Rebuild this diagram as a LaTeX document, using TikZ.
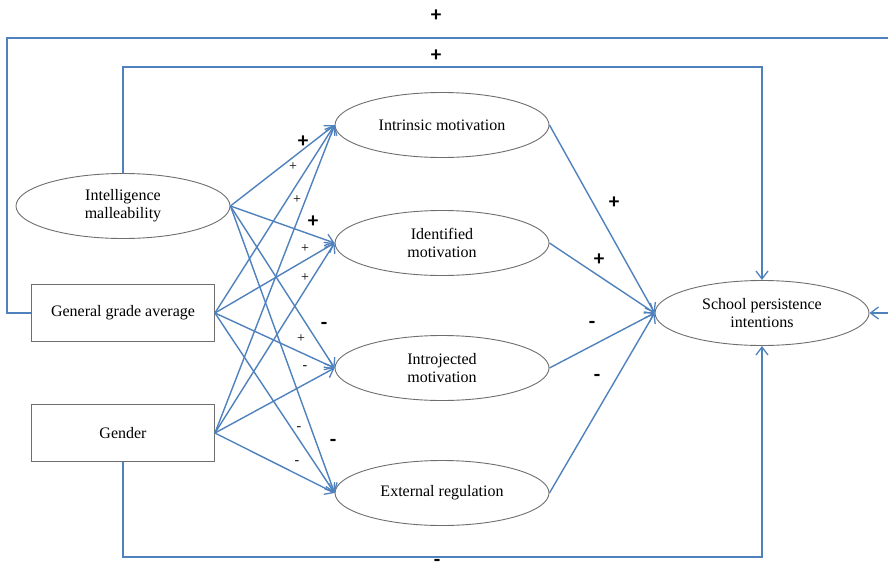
\documentclass[tikz,border=0pt]{standalone}
\usepackage{fontspec}
\setmainfont{Liberation Serif}
\newfontfamily\labfont{Carlito}
\usetikzlibrary{shapes.geometric,arrows.meta}
\definecolor{lineblue}{RGB}{79,129,189}
\definecolor{boxgray}{RGB}{110,110,110}
\begin{document}
\begin{tikzpicture}[x=1pt,y=-1pt,
  ell/.style={ellipse,draw=boxgray,line width=0.9pt,minimum width=214pt,minimum height=65pt,inner sep=0pt,align=center,font=\fontsize{16}{18}\selectfont},
  rbox/.style={rectangle,draw=boxgray,line width=0.9pt,minimum width=183pt,minimum height=57pt,inner sep=0pt,align=center,font=\fontsize{16}{18}\selectfont},
  arr/.style={draw=lineblue,line width=1.4pt,-{Straight Barb[length=8pt,width=12pt,line width=1.3pt]}},
  plain/.style={draw=lineblue,line width=1.4pt},
  bl/.style={font=\labfont\bfseries\fontsize{21}{21}\selectfont,inner sep=0pt},
  sl/.style={font=\fontsize{14}{14}\selectfont,inner sep=0pt}]
\clip (0,0) rectangle (888,571);
\useasboundingbox (0,0) rectangle (888,571);

\node[ell] (intel) at (123,206) {Intelligence\\malleability};
\node[rbox] (gga) at (123,313) {General grade average};
\node[rbox] (gender) at (123,433) {Gender};
\node[ell] (intr) at (442,125) {Intrinsic motivation};
\node[ell] (iden) at (442,243) {Identified\\motivation};
\node[ell] (intro) at (442,368) {Introjected\\motivation};
\node[ell] (ext) at (442,493) {External regulation};
\node[ell] (school) at (762,313) {School persistence\\intentions};

\coordinate (topy) at (0,38);
\coordinate (inny) at (0,67);
\coordinate (boty) at (0,557);
\coordinate (leftx) at (7,0);
\coordinate (farx) at (900,0);

% outer feedback line
\draw[plain] (gga.west) -- (leftx |- gga.west) -- (leftx |- topy) -- (farx |- topy) -- (farx |- school.east);
\draw[arr] (farx |- school.east) -- (school.east);
% inner line
\draw[arr] (intel.north) |- (school.north |- inny) -- (school.north);
% bottom line
\draw[arr] (gender.south) |- (school.south |- boty) -- (school.south);

% predictors to mediators
\foreach \s in {intel,gga,gender}{
  \foreach \t in {intr,iden,intro,ext}{
    \draw[arr] (\s.east) -- (\t.west);
  }
}
% mediators to outcome
\foreach \t in {intr,iden,intro,ext}{
  \draw[arr] (\t.east) -- (school.west);
}

% labels
\node[bl] (l1) at (436,16) {+};
\node[bl] (l2) at (436,56) {+};
\node[bl] (l3) at (437,563) {-};
\node[bl] (l4) at (303,142) {+};
\node[sl] (l5) at (293,167) {+};
\node[sl] (l6) at (297,200) {+};
\node[bl] (l7) at (313,222) {+};
\node[sl] (l8) at (305,249) {+};
\node[sl] (l9) at (305,278) {+};
\node[bl] (l10) at (324,326) {-};
\node[sl] (l11) at (301,339) {+};
\node[sl] (l12) at (305,368) {-};
\node[sl] (l13) at (299,429) {-};
\node[bl] (l14) at (333,443) {-};
\node[sl] (l15) at (297,463) {-};
\node[bl] (l16) at (614,203) {+};
\node[bl] (l17) at (599,260) {+};
\node[bl] (l18) at (592,325) {-};
\node[bl] (l19) at (597,378) {-};
\end{tikzpicture}
\end{document}
